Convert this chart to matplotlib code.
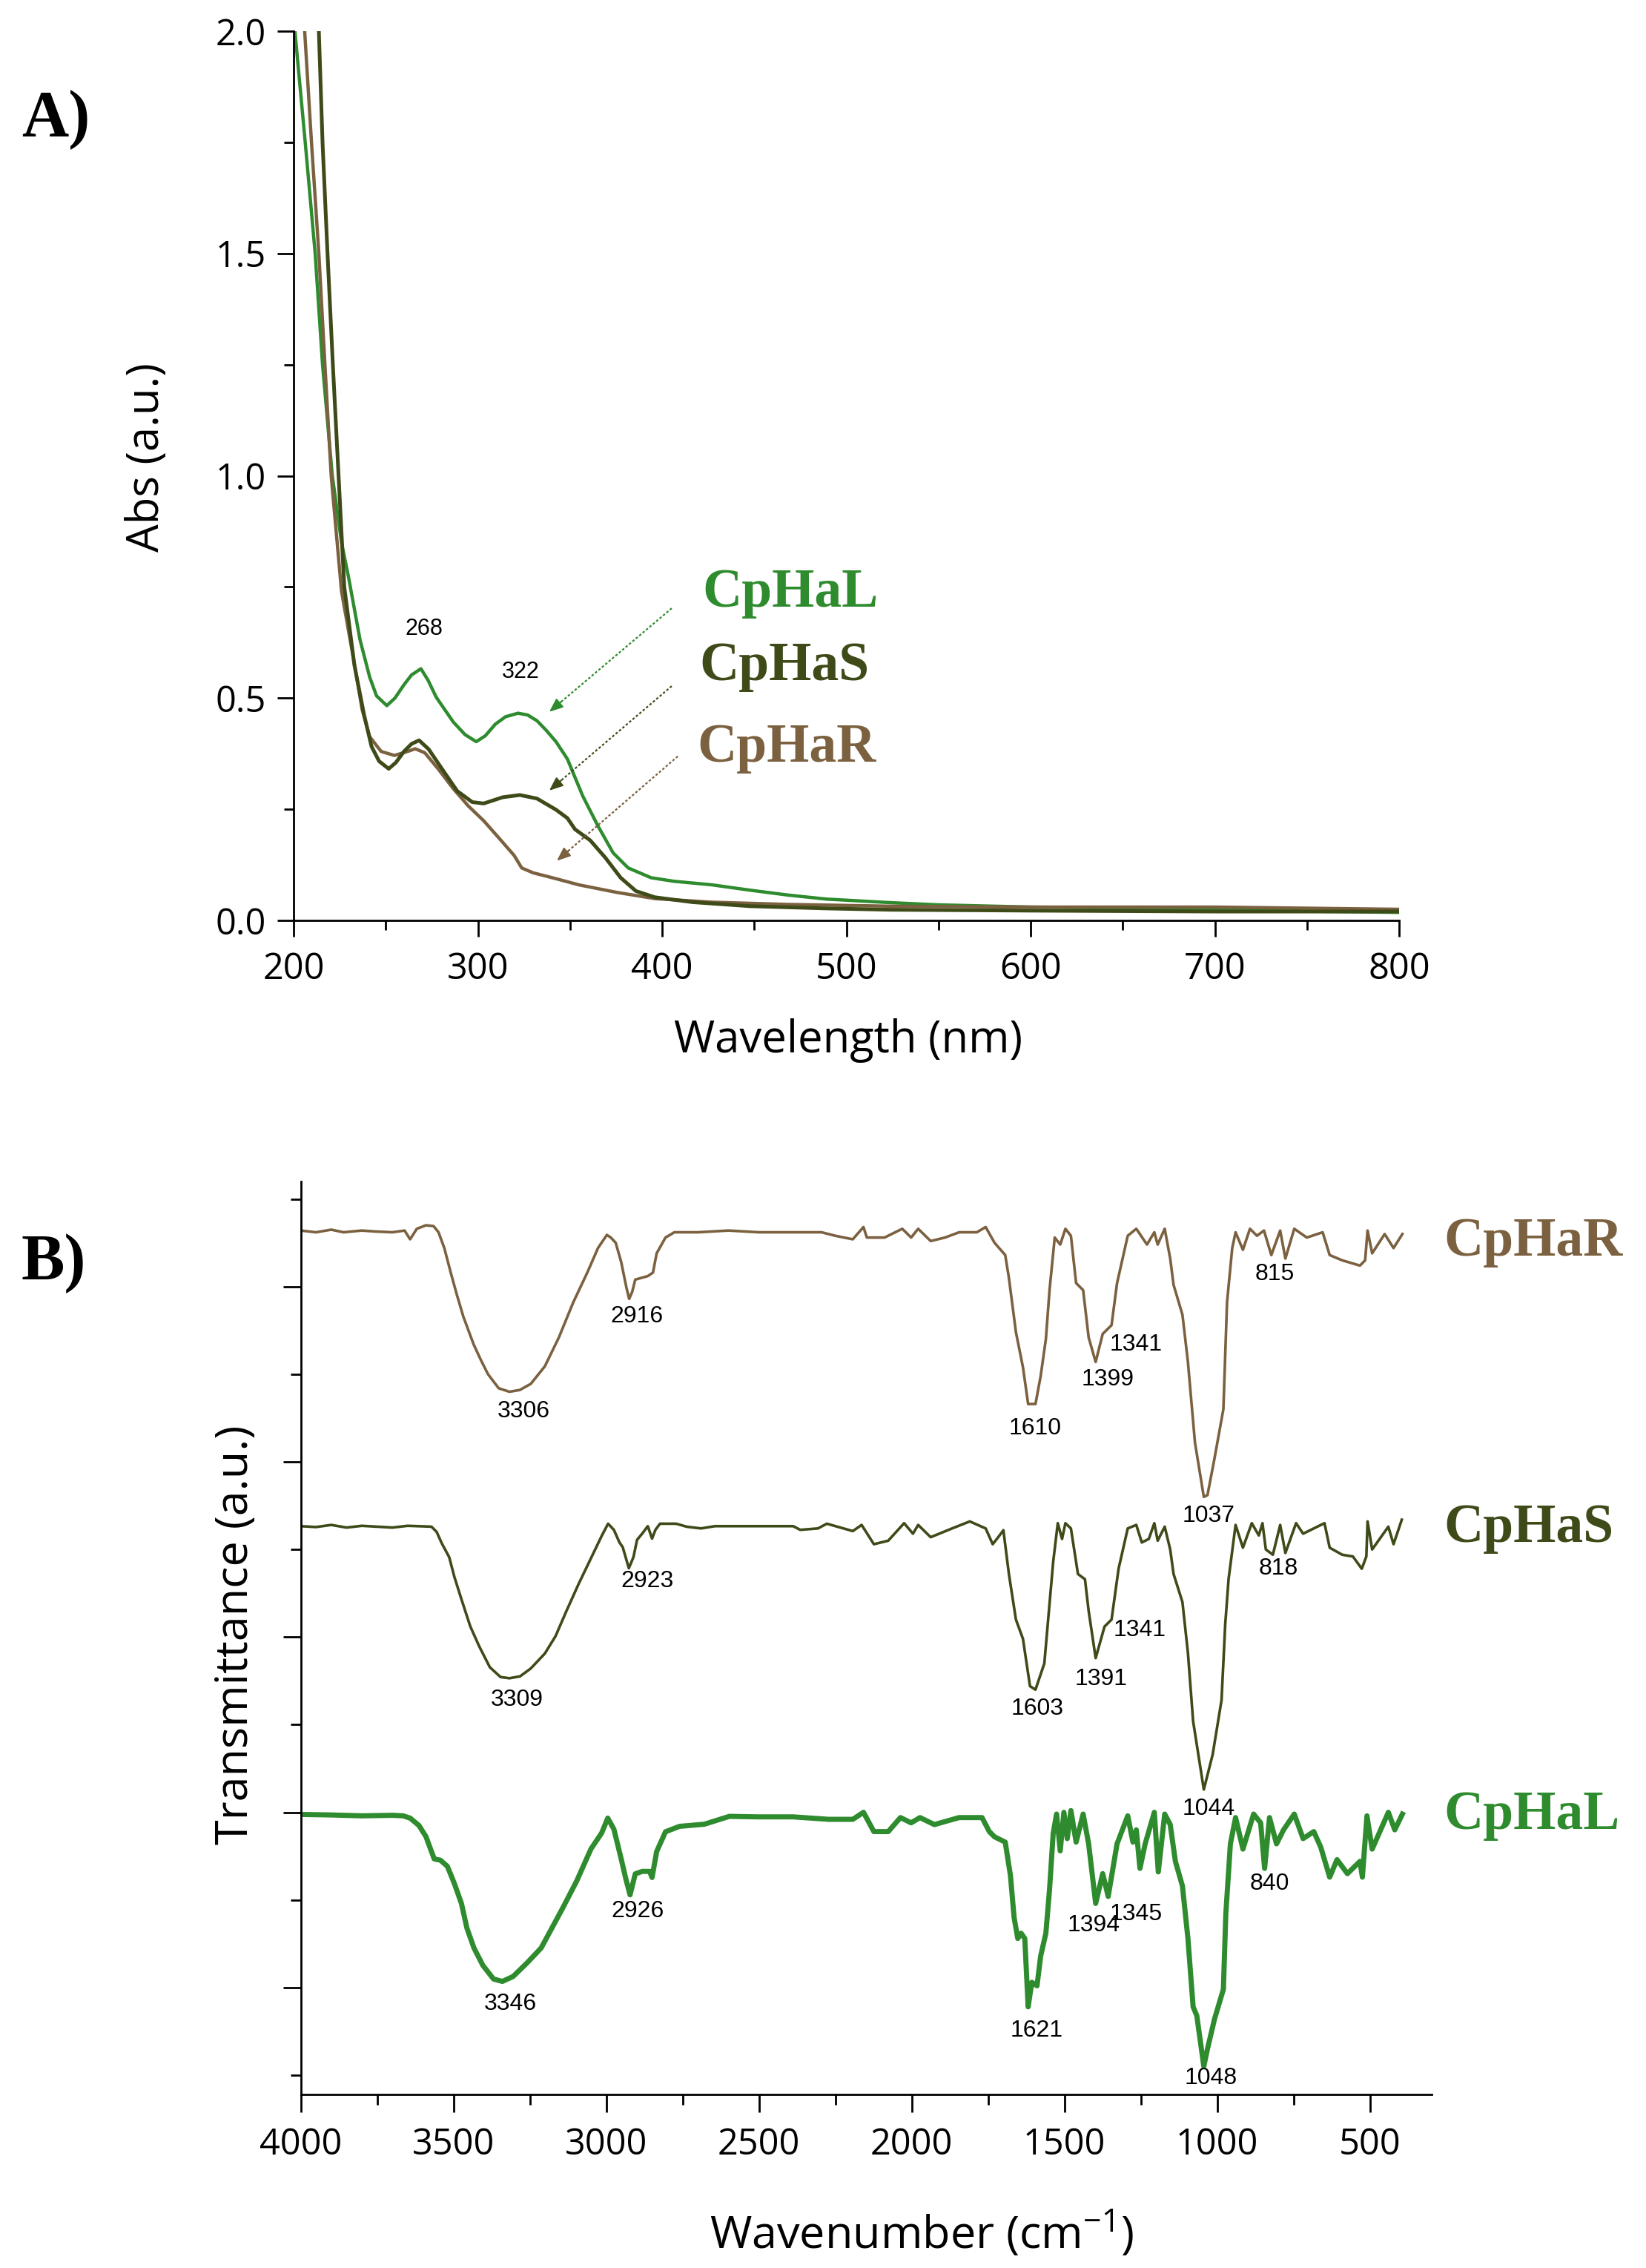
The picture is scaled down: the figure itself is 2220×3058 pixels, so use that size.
import matplotlib
matplotlib.use('Agg')
import matplotlib.pyplot as plt
from matplotlib.ticker import MultipleLocator, NullFormatter, FormatStrFormatter

plt.rcParams['font.family'] = ['Open Sans', 'DejaVu Sans']
plt.rcParams['mathtext.default'] = 'regular'

C_L = '#2e8b2e'
C_S = '#3e4b19'
C_R = '#7b6140'

# ---- A) UV-Vis absorbance ----
uv_wl_L = [199, 200.7, 206.3, 211.7, 215.7, 221, 226, 229.9, 236.1, 241.3, 245, 250.6, 255, 259.9, 264,
           269.1, 273, 277.4, 286.7, 293, 299.1, 304, 309.4, 315, 321.8, 327, 332.1, 337, 342.4, 348.6,
           356.9, 365.1, 373.4, 381.6, 394, 406.4, 427, 447.7, 468.3, 489, 523.6, 550, 600, 650, 700,
           760, 800]
uv_abs_L = [2.08, 2.0, 1.75, 1.5, 1.25, 1.0, 0.85, 0.77, 0.63, 0.547, 0.505, 0.483, 0.50, 0.53, 0.552,
            0.566, 0.54, 0.502, 0.446, 0.418, 0.402, 0.415, 0.441, 0.458, 0.466, 0.462, 0.449, 0.428,
            0.402, 0.363, 0.280, 0.213, 0.152, 0.118, 0.096, 0.088, 0.080, 0.068, 0.057, 0.048, 0.040,
            0.035, 0.030, 0.028, 0.025, 0.020, 0.018]

uv_wl_S = [212.8, 213.7, 215.7, 218.4, 221.3, 224.4, 227.5, 233, 238.2, 242.3, 246.4, 251.6, 255.5, 259.9,
           264, 268.1, 273.3, 280.5, 288.8, 297, 303.2, 313.5, 322.8, 332.1, 342.4, 348.6, 352.7, 361,
           369.2, 377.5, 385.8, 396.1, 416.7, 447.7, 489, 523.6, 600, 700, 800]
uv_abs_S = [2.08, 2.0, 1.75, 1.5, 1.25, 1.0, 0.75, 0.574, 0.463, 0.391, 0.358, 0.341, 0.355, 0.38,
            0.397, 0.405, 0.385, 0.341, 0.291, 0.266, 0.263, 0.277, 0.282, 0.274, 0.249, 0.23, 0.205,
            0.18, 0.141, 0.096, 0.066, 0.052, 0.041, 0.032, 0.027, 0.024, 0.022, 0.020, 0.020]

uv_wl_R = [205, 206, 209.7, 213.7, 217, 220.4, 226, 232, 237.2, 241.3, 247.5, 254.7, 261.9, 266, 271.2,
           278.4, 286.7, 294.9, 303.2, 311.5, 319.7, 323.8, 330, 340.4, 354.8, 375.4, 396.1, 427, 468,
           523.6, 600, 700, 800]
uv_abs_R = [2.08, 2.0, 1.75, 1.5, 1.25, 1.0, 0.74, 0.60, 0.474, 0.413, 0.38, 0.371, 0.38, 0.386, 0.377,
            0.341, 0.296, 0.257, 0.224, 0.185, 0.146, 0.118, 0.107, 0.096, 0.080, 0.063, 0.049, 0.041,
            0.036, 0.032, 0.030, 0.030, 0.025]

uv_peaks = [268, 322]

# ---- B) FTIR transmittance (stacked, arbitrary units) ----
ir_wn_R = [4000, 3950, 3900, 3860, 3800, 3760, 3700, 3660, 3642, 3620, 3590, 3565, 3549, 3530, 3509,
           3490, 3468, 3434, 3410, 3387, 3352, 3317, 3283, 3247, 3201, 3155, 3108, 3062, 3027, 2998,
           2985, 2969, 2951, 2934, 2925, 2915, 2905, 2864, 2847, 2835, 2806, 2777, 2700, 2600, 2500,
           2400, 2295, 2250, 2193, 2158, 2147, 2089, 2031, 2002, 1979, 1938, 1891, 1845, 1787, 1758,
           1729, 1694, 1682, 1659, 1636, 1619, 1595, 1578, 1561, 1549, 1532, 1514, 1497, 1479, 1462,
           1439, 1421, 1398, 1375, 1346, 1328, 1293, 1265, 1230, 1206, 1195, 1172, 1154, 1143, 1114,
           1096, 1073, 1044, 1032, 1009, 980, 968, 951, 940, 916, 893, 870, 847, 823, 794, 777, 748,
           707, 655, 632, 591, 533, 516, 508, 493, 452, 423, 394]
ir_T_R = [5.32, 5.31, 5.325, 5.31, 5.32, 5.315, 5.31, 5.32, 5.27, 5.33, 5.35, 5.345, 5.31, 5.22, 5.08,
          4.96, 4.83, 4.67, 4.58, 4.50, 4.42, 4.40, 4.41, 4.445, 4.545, 4.71, 4.91, 5.08, 5.22, 5.295,
          5.28, 5.25, 5.14, 4.995, 4.93, 4.97, 5.04, 5.06, 5.08, 5.19, 5.28, 5.31, 5.31, 5.32, 5.31,
          5.31, 5.31, 5.29, 5.27, 5.34, 5.28, 5.28, 5.33, 5.28, 5.33, 5.26, 5.28, 5.31, 5.31, 5.34,
          5.25, 5.18, 5.05, 4.74, 4.54, 4.33, 4.33, 4.49, 4.70, 4.98, 5.28, 5.24, 5.33, 5.29, 5.02,
          4.98, 4.71, 4.57, 4.73, 4.78, 5.02, 5.29, 5.33, 5.24, 5.31, 5.24, 5.33, 5.16, 5.01, 4.84,
          4.57, 4.11, 3.80, 3.81, 4.02, 4.30, 4.91, 5.22, 5.31, 5.21, 5.33, 5.29, 5.32, 5.18, 5.32,
          5.16, 5.33, 5.28, 5.31, 5.18, 5.15, 5.12, 5.15, 5.32, 5.19, 5.30, 5.22, 5.30]

ir_wn_S = [4000, 3950, 3900, 3850, 3800, 3750, 3700, 3650, 3600, 3572, 3555, 3538, 3514, 3497, 3474,
           3445, 3416, 3381, 3346, 3317, 3282, 3247, 3201, 3166, 3131, 3091, 3056, 3015, 2994, 2975,
           2957, 2946, 2926, 2911, 2899, 2882, 2864, 2850, 2839, 2824, 2771, 2737, 2690, 2644, 2500,
           2388, 2365, 2307, 2278, 2193, 2164, 2124, 2077, 2025, 1996, 1979, 1938,
           1868, 1810, 1758, 1735, 1717, 1700, 1682, 1659, 1636, 1613, 1595, 1566, 1555, 1537, 1522,
           1508, 1497, 1479, 1456, 1433, 1421, 1398, 1369, 1346, 1323, 1293, 1265, 1247, 1224, 1206,
           1195, 1172, 1154, 1143, 1114, 1096, 1079, 1044, 1015, 986, 974, 963, 940, 916, 887, 864,
           852, 841, 818, 794, 777, 742, 719, 684, 649, 632, 591, 556, 527, 512, 508, 493, 440, 423,
           396]
ir_T_S = [3.633, 3.628, 3.64, 3.625, 3.635, 3.63, 3.625, 3.635, 3.632, 3.63, 3.60, 3.534, 3.456, 3.343,
          3.216, 3.061, 2.948, 2.828, 2.772, 2.765, 2.776, 2.821, 2.906, 3.005, 3.146, 3.301, 3.428,
          3.577, 3.647, 3.612, 3.541, 3.513, 3.393, 3.456, 3.555, 3.591, 3.633, 3.562, 3.612, 3.647,
          3.647, 3.63, 3.62, 3.633, 3.633, 3.633, 3.612, 3.62, 3.647, 3.605, 3.64, 3.53, 3.55, 3.65,
          3.59, 3.64, 3.57,
          3.62, 3.66, 3.62, 3.53, 3.57, 3.61, 3.36, 3.10, 2.99, 2.72, 2.70, 2.85, 3.07, 3.43, 3.65,
          3.56, 3.65, 3.62, 3.36, 3.33, 3.15, 2.88, 3.06, 3.10, 3.39, 3.62, 3.64, 3.54, 3.56, 3.65,
          3.55, 3.63, 3.50, 3.36, 3.20, 2.91, 2.52, 2.13, 2.33, 2.64, 3.07, 3.33, 3.64, 3.51, 3.65, 3.58,
          3.65, 3.50, 3.47, 3.64, 3.48, 3.65, 3.59, 3.62, 3.65, 3.51, 3.47, 3.46, 3.39, 3.46, 3.66,
          3.50, 3.63, 3.53, 3.67]

ir_wn_L = [4000, 3900, 3800, 3700, 3665, 3642, 3613, 3590, 3572, 3563, 3543, 3520, 3497, 3474, 3456,
           3433, 3404, 3369, 3340, 3305, 3259, 3213, 3178, 3143, 3097, 3050, 3015, 2995, 2975, 2951,
           2936, 2922, 2905, 2882, 2858, 2850, 2835, 2806, 2760, 2679, 2597, 2504, 2388, 2272, 2193,
           2158, 2124, 2077, 2037, 2002, 1973, 1926, 1845, 1770,
           1746, 1729, 1694, 1677, 1665, 1653, 1642, 1630, 1619, 1607, 1590, 1578, 1561, 1549, 1537,
           1526, 1514, 1502, 1491, 1479, 1462, 1439, 1421, 1398, 1375, 1357, 1328, 1293, 1276, 1265,
           1253, 1236, 1206, 1193, 1172, 1154, 1137, 1114, 1096, 1079, 1067, 1044, 1032, 1009, 980,
           972, 957, 940, 916, 881, 858, 845, 829, 806, 783, 748, 719, 684, 661, 632, 608, 574, 533,
           525, 510, 493, 440, 419, 394]
ir_T_L = [1.988, 1.985, 1.98, 1.983, 1.98, 1.967, 1.925, 1.861, 1.776, 1.734, 1.727, 1.692, 1.593, 1.48,
          1.339, 1.226, 1.127, 1.049, 1.035, 1.063, 1.141, 1.226, 1.339, 1.452, 1.607, 1.791, 1.882,
          1.967, 1.904, 1.734, 1.621, 1.529, 1.649, 1.663, 1.663, 1.628, 1.776, 1.889, 1.92, 1.932,
          1.977, 1.974, 1.974, 1.96, 1.96,
          2.00, 1.89, 1.89, 1.97, 1.94, 1.97, 1.93, 1.97, 1.97,
          1.89, 1.86, 1.83, 1.64, 1.40, 1.28, 1.31, 1.28, 0.89, 1.03, 1.01, 1.18, 1.31, 1.56, 1.88,
          1.99, 1.78, 2.00, 1.85, 2.01, 1.83, 1.99, 1.82, 1.48, 1.65, 1.52, 1.82, 1.98, 1.83, 1.90,
          1.68, 1.82, 2.00, 1.66, 1.99, 1.93, 1.72, 1.58, 1.28, 0.89, 0.84, 0.55, 0.65, 0.82, 0.99,
          1.42, 1.82, 1.97, 1.79, 1.99, 1.94, 1.68, 1.97, 1.82, 1.90, 1.99, 1.85, 1.89, 1.80, 1.63,
          1.73, 1.65, 1.72, 1.63, 1.98, 1.79, 2.00, 1.90, 1.99]

ir_peaks_R = [3306, 2916, 1610, 1399, 1341, 1037, 815]
ir_peaks_S = [3309, 2923, 1603, 1391, 1341, 1044, 818]
ir_peaks_L = [3346, 2926, 1621, 1394, 1345, 1048, 840]

# label placement (wavenumber, y) for the peak numbers
pos_R = [(3271, 4.29), (2899, 4.83), (1596, 4.19), (1358, 4.47), (1265, 4.67), (1027, 3.69), (812, 5.07)]
pos_S = [(3292, 2.64), (2866, 3.32), (1590, 2.59), (1381, 2.76), (1253, 3.04), (1027, 2.02), (800, 3.39)]
pos_L = [(3313, 0.907), (2897, 1.436), (1590, 0.754), (1405, 1.353), (1265, 1.42), (1021, 0.485), (829, 1.593)]

W, H = 2220, 3058
fig = plt.figure(figsize=(W / 100, H / 100), dpi=100)

# ---------------- panel A ----------------
axA = fig.add_axes([396 / W, 1 - 1241 / H, (1887 - 396) / W, (1241 - 42) / H])
axA.plot(uv_wl_L, uv_abs_L, color=C_L, lw=3.2)
axA.plot(uv_wl_R, uv_abs_R, color=C_R, lw=3.2)
axA.plot(uv_wl_S, uv_abs_S, color=C_S, lw=3.6)
axA.set_xlim(200, 800)
axA.set_ylim(0, 2.0)
axA.xaxis.set_major_locator(MultipleLocator(100))
axA.xaxis.set_minor_locator(MultipleLocator(50))
axA.yaxis.set_major_locator(MultipleLocator(0.5))
axA.yaxis.set_minor_locator(MultipleLocator(0.25))
axA.yaxis.set_major_formatter(FormatStrFormatter('%.1f'))
for s in ['top', 'right']:
    axA.spines[s].set_visible(False)
for s in ['left', 'bottom']:
    axA.spines[s].set_linewidth(2)
axA.tick_params(which='major', direction='out', length=16, width=2, labelsize=35)
axA.tick_params(which='minor', direction='out', length=9.5, width=2)
axA.tick_params(axis='x', which='major', pad=14)
axA.tick_params(axis='y', which='major', pad=11)
axA.set_xlabel('Wavelength (nm)', fontsize=43)
axA.set_ylabel('Abs (a.u.)', fontsize=43)
axA.xaxis.label.set_va('center')
axA.yaxis.label.set_va('center')
axA.xaxis.set_label_coords(0.502, -0.135)
axA.yaxis.set_label_coords(-0.133, 0.521)

axA.text(uv_peaks[0] + 2.8, 0.655, str(uv_peaks[0]), fontsize=22, family='Liberation Sans',
         ha='center', va='center')
axA.text(uv_peaks[1] + 1.2, 0.558, str(uv_peaks[1]), fontsize=22, family='Liberation Sans',
         ha='center', va='center')

serif = dict(family='Liberation Serif', fontweight='bold', fontsize=53)
axA.text(421.7, 0.706, 'CpHaL', color=C_L, va='baseline', **serif)
axA.text(420.4, 0.541, 'CpHaS', color=C_S, va='baseline', **serif)
axA.text(419.2, 0.357, 'CpHaR', color=C_R, va='baseline', **serif)

arrows = [((405.2, 0.702), (337.9, 0.466), C_L),
          ((405.2, 0.527), (337.9, 0.289), C_S),
          ((408.5, 0.369), (342.0, 0.131), C_R)]
for (x0, y0), (x1, y1), c in arrows:
    axA.plot([x0, x1 + 0.1 * (x0 - x1)], [y0, y1 + 0.1 * (y0 - y1)], color=c, lw=1.6,
             ls=(0, (1.5, 1.2)))
    axA.annotate('', xy=(x1, y1), xytext=(x1 + 0.12 * (x0 - x1), y1 + 0.12 * (y0 - y1)),
                 arrowprops=dict(arrowstyle='-|>,head_length=1.1,head_width=0.45', color=c, lw=1.6))

fig.text(29 / W, 1 - 183 / H, 'A)', family='Liberation Serif', fontweight='bold', fontsize=63,
         va='baseline', ha='left')

# ---------------- panel B ----------------
axB = fig.add_axes([405.6 / W, 1 - 2824 / H, (1931 - 405.6) / W, (2824 - 1593) / H])
axB.plot(ir_wn_R, ir_T_R, color=C_R, lw=2.6)
axB.plot(ir_wn_S, ir_T_S, color=C_S, lw=2.6)
axB.plot(ir_wn_L, ir_T_L, color=C_L, lw=5.0)
axB.set_xlim(4000, 298)
axB.set_ylim(0.39, 5.60)
axB.xaxis.set_major_locator(MultipleLocator(500))
axB.xaxis.set_minor_locator(MultipleLocator(250))
axB.yaxis.set_major_locator(MultipleLocator(1))
axB.yaxis.set_minor_locator(MultipleLocator(0.5))
axB.yaxis.set_major_formatter(NullFormatter())
for s in ['top', 'right']:
    axB.spines[s].set_visible(False)
for s in ['left', 'bottom']:
    axB.spines[s].set_linewidth(2)
axB.tick_params(which='major', direction='out', length=17, width=2, labelsize=35)
axB.tick_params(which='minor', direction='out', length=10, width=2)
axB.tick_params(axis='x', which='major', pad=14)
axB.set_xlabel('Wavenumber (cm$^{-1}$)', fontsize=44)
axB.set_ylabel('Transmittance (a.u.)', fontsize=44)
axB.xaxis.label.set_va('center')
axB.yaxis.label.set_va('center')
axB.xaxis.set_label_coords(0.549, -0.1527)
axB.yaxis.set_label_coords(-0.0571, 0.5037)

for peaks, pos in [(ir_peaks_R, pos_R), (ir_peaks_S, pos_S), (ir_peaks_L, pos_L)]:
    for p, (x, y) in zip(peaks, pos):
        axB.text(x, y, str(p), fontsize=23, family='Liberation Sans', ha='center', va='center')

axB.text(258, 5.176, 'CpHaR', color=C_R, va='baseline', clip_on=False, **serif)
axB.text(258, 3.545, 'CpHaS', color=C_S, va='baseline', clip_on=False, **serif)
axB.text(258, 1.904, 'CpHaL', color=C_L, va='baseline', clip_on=False, **serif)

fig.text(28 / W, 1 - 1725 / H, 'B)', family='Liberation Serif', fontweight='bold', fontsize=63,
         va='baseline', ha='left')

fig.savefig('out.png', dpi=100, facecolor='white')
